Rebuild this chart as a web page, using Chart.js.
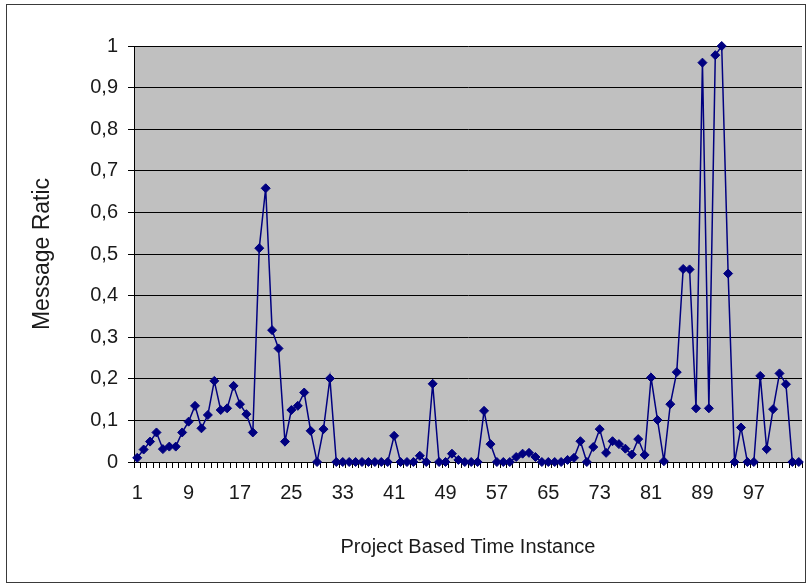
<!DOCTYPE html>
<html>
<head>
<meta charset="utf-8">
<script src="https://cdn.jsdelivr.net/npm/chart.js@4/dist/chart.umd.min.js"></script>
<style>
  html, body { margin: 0; padding: 0; background: #ffffff; }
  #wrap { width: 809px; height: 587px; }
</style>
</head>
<body>
<div id="wrap"><canvas id="chart" width="809" height="587"></canvas></div>
<script>
// Time instances along the x axis
const categories = [
  '1','2','3','4','5','6','7','8','9','10','11','12','13','14','15','16','17','18','19','20',
  '21','22','23','24','25','26','27','28','29','30','31','32','33','34','35','36','37','38','39','40',
  '41','42','43','44','45','46','47','48','49','50','51','52','53','54','55','56','57','58','59','60',
  '61','62','63','64','65','66','67','68','69','70','71','72','73','74','75','76','77','78','79','80',
  '81','82','83','84','85','86','87','88','89','90','91','92','93','94','95','96','97','98','99','100',
  '101','102','103','104'
];

// Message ratio per time instance
const messageRatio = [
  0.010, 0.030, 0.049, 0.071, 0.031, 0.037, 0.037, 0.071, 0.097, 0.135,
  0.081, 0.113, 0.195, 0.125, 0.129, 0.183, 0.139, 0.115, 0.071, 0.514,
  0.658, 0.317, 0.273, 0.049, 0.125, 0.135, 0.167, 0.075, 0.000, 0.079,
  0.201, 0.000, 0.000, 0.000, 0.000, 0.000, 0.000, 0.000, 0.000, 0.000,
  0.063, 0.000, 0.000, 0.000, 0.015, 0.000, 0.188, 0.000, 0.000, 0.020,
  0.005, 0.000, 0.000, 0.000, 0.123, 0.043, 0.000, 0.000, 0.000, 0.012,
  0.020, 0.022, 0.012, 0.000, 0.000, 0.000, 0.000, 0.005, 0.010, 0.050,
  0.000, 0.036, 0.079, 0.022, 0.050, 0.043, 0.032, 0.018, 0.055, 0.017,
  0.203, 0.101, 0.002, 0.139, 0.216, 0.464, 0.463, 0.129, 0.960, 0.129,
  0.978, 1.000, 0.453, 0.000, 0.083, 0.000, 0.000, 0.207, 0.031, 0.127,
  0.213, 0.187, 0.000, 0.000
];

// Category labels printed under the axis
const shownTicks = ['1','9','17','25','33','41','49','57','65','73','81','89','97'];

const FONT = "'Liberation Sans', Arial, sans-serif";
const TEXT = '#1a1a1a';
const NAVY = '#000080';

// Grey plot area and the thin frame around the whole chart
const frame = {
  id: 'frame',
  beforeDraw(chart) {
    const { ctx, chartArea: a } = chart;
    ctx.save();
    ctx.fillStyle = '#ffffff';
    ctx.fillRect(0, 0, chart.width, chart.height);
    ctx.fillStyle = '#c0c0c0';
    ctx.fillRect(a.left, a.top, a.right - a.left, a.bottom - a.top);
    ctx.strokeStyle = '#3a3a3a';
    ctx.lineWidth = 1;
    ctx.strokeRect(6.5, 4.5, 799, 578);
    ctx.restore();
  }
};

new Chart(document.getElementById('chart'), {
  type: 'line',
  data: {
    labels: categories,
    datasets: [{
      data: messageRatio,
      borderColor: NAVY,
      borderWidth: 1.5,
      tension: 0,
      pointStyle: 'rectRot',
      pointRadius: 4.5,
      pointBorderWidth: 1,
      pointBackgroundColor: NAVY,
      pointBorderColor: NAVY,
      clip: false
    }]
  },
  options: {
    responsive: false,
    animation: false,
    events: [],
    layout: { padding: { top: 46, right: 7, bottom: 0, left: 0 } },
    plugins: {
      legend: { display: false },
      tooltip: { enabled: false }
    },
    scales: {
      x: {
        type: 'category',
        offset: true,
        afterFit(scale) {
          scale.height = 125;
          scale.paddingLeft = 0;
          scale.paddingRight = 0;
        },
        grid: {
          offset: true,
          drawOnChartArea: false,
          drawTicks: true,
          tickLength: 6,
          color: '#000000',
          lineWidth: 1
        },
        border: { display: true, color: '#000000', width: 1 },
        ticks: {
          autoSkip: false,
          maxRotation: 0,
          minRotation: 0,
          padding: 13,
          color: TEXT,
          font: { family: FONT, size: 20 },
          callback(value, index) {
            const lab = categories[index];
            return shownTicks.includes(lab) ? lab : '';
          }
        },
        title: {
          display: true,
          text: 'Project Based Time Instance',
          color: TEXT,
          font: { family: FONT, size: 20 },
          padding: { top: 0, bottom: 28 }
        }
      },
      y: {
        min: 0,
        max: 1,
        afterFit(scale) { scale.width = 134; },
        grid: {
          drawOnChartArea: true,
          drawTicks: true,
          tickLength: 6,
          color: '#000000',
          lineWidth: 1
        },
        border: { display: true, color: '#000000', width: 1 },
        ticks: {
          stepSize: 0.1,
          padding: 10,
          color: TEXT,
          font: { family: FONT, size: 20 },
          callback(value) {
            const r = Math.round(value * 10) / 10;
            if (r === 0) return '0';
            if (r === 1) return '1';
            return r.toFixed(1).replace('.', ',');
          }
        },
        title: {
          display: true,
          text: 'Message Ratic',
          color: TEXT,
          font: { family: FONT, size: 23 },
          padding: { top: 29, bottom: 0 }
        }
      }
    }
  },
  plugins: [frame]
});
</script>
</body>
</html>
